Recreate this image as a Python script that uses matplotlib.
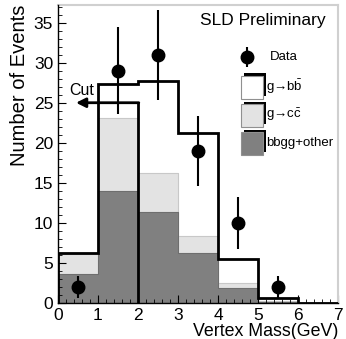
import numpy as np
import matplotlib
matplotlib.use('Agg')
import matplotlib.pyplot as plt
from matplotlib.patches import Rectangle

plt.rcParams['font.family'] = ['Liberation Sans', 'DejaVu Sans']
plt.rcParams['mathtext.fontset'] = 'custom'
plt.rcParams['mathtext.rm'] = 'Liberation Sans'
plt.rcParams['mathtext.it'] = 'Liberation Sans'

# bin edges (vertex mass, GeV)
edges = [0, 1, 2, 3, 4, 5, 6, 7]
# stacked MC components per bin
other = [3.6, 14.0, 11.4, 6.2, 1.9, 0.1, 0.0]
gcc = [2.5, 9.1, 4.8, 2.2, 0.6, 0.15, 0.0]
gbb = [0.1, 4.3, 11.5, 12.8, 3.0, 0.35, 0.05]
# data points
data_x = [0.5, 1.5, 2.5, 3.5, 4.5, 5.5]
data_y = [2, 29, 31, 19, 10, 2]
data_err = [1.4, 5.4, 5.6, 4.4, 3.2, 1.4]
cut_value = 2.0

dark = np.array(other)
light = dark + np.array(gcc)
total = light + np.array(gbb)

fig = plt.figure(figsize=(3.46, 3.39), dpi=100)
ax = fig.add_axes([58/346, 36/339, 280/346, 298/339])

def step_fill(vals, color, edge):
    xs = np.repeat(edges, 2)[1:-1]
    ys = np.repeat(vals, 2)
    ax.fill_between(xs, 0, ys, color=color, lw=0, zorder=1)
    ax.plot(xs, ys, color=edge, lw=0.8, zorder=1.5)

step_fill(total, 'white', 'white')
step_fill(light, '#e3e3e3', '#c8c8c8')
step_fill(dark, '#808080', '#6e6e6e')
ax.stairs(total, edges, color='black', lw=2.0, zorder=3)

# cut line and arrow
ax.plot([cut_value, cut_value], [0, 25], color='black', lw=2.0, zorder=3)
ax.annotate('', xy=(0.45, 25), xytext=(cut_value + 0.02, 25),
            arrowprops=dict(arrowstyle='-|>', color='black', lw=2.0,
                            mutation_scale=14, shrinkA=0, shrinkB=0),
            zorder=3)
ax.text(0.6, 26.5, 'Cut', fontsize=11.5, ha='center', va='center')

ax.errorbar(data_x, data_y, yerr=data_err, fmt='o', color='black',
            ms=9, elinewidth=1.5, capsize=0, zorder=4)

ax.set_xlim(0, 7)
ax.set_ylim(0, 37.2)
ax.set_xticks(range(0, 8))
ax.set_yticks(range(0, 36, 5))
ax.set_xticks(np.arange(0, 7.01, 0.2), minor=True)
ax.set_yticks(range(0, 38), minor=True)
ax.tick_params(direction='in', labelsize=12.5, length=6, width=0.8,
               top=False, right=False)
ax.tick_params(which='minor', direction='in', length=3, width=0.6,
               top=False, right=False)
for s in ['top', 'right']:
    ax.spines[s].set_color('#d0d0d0')
    ax.spines[s].set_linewidth(1.5)
ax.spines['left'].set_linewidth(1.0)
ax.spines['bottom'].set_linewidth(1.0)
ax.spines['left'].set_zorder(5)
ax.spines['bottom'].set_zorder(5)

ax.set_xlabel('Vertex Mass(GeV)', fontsize=12.8, loc='right', labelpad=0)
ax.set_ylabel('Number of Events', fontsize=14.5, loc='top', labelpad=3)

ax.text(6.68, 35.3, 'SLD Preliminary', fontsize=12.5, ha='right', va='center')

# legend drawn by hand
ax.errorbar([4.73], [30.7], yerr=[1.3], fmt='o', color='black', ms=9,
            elinewidth=1.5, capsize=0, clip_on=False)
ax.text(5.3, 30.7, 'Data', fontsize=9.5, va='center')
boxes = [(25.5, 'white', 'g→b$\\bar{\\mathrm{b}}$'),
         (21.95, '#e3e3e3', 'g→c$\\bar{\\mathrm{c}}$'),
         (18.45, '#808080', 'bbgg+other')]
for y0, col, lab in boxes:
    ax.add_patch(Rectangle((4.65, y0 + 0.35), 0.55, 2.85, facecolor='black',
                           edgecolor='black', lw=0, zorder=5))
    ax.add_patch(Rectangle((4.575, y0), 0.55, 2.85, facecolor=col,
                           edgecolor='#909090', lw=0.8, zorder=5))
    ax.text(5.2, y0 + 1.5, lab, fontsize=9.5, va='center', zorder=5)

fig.savefig('out.png', dpi=100)
